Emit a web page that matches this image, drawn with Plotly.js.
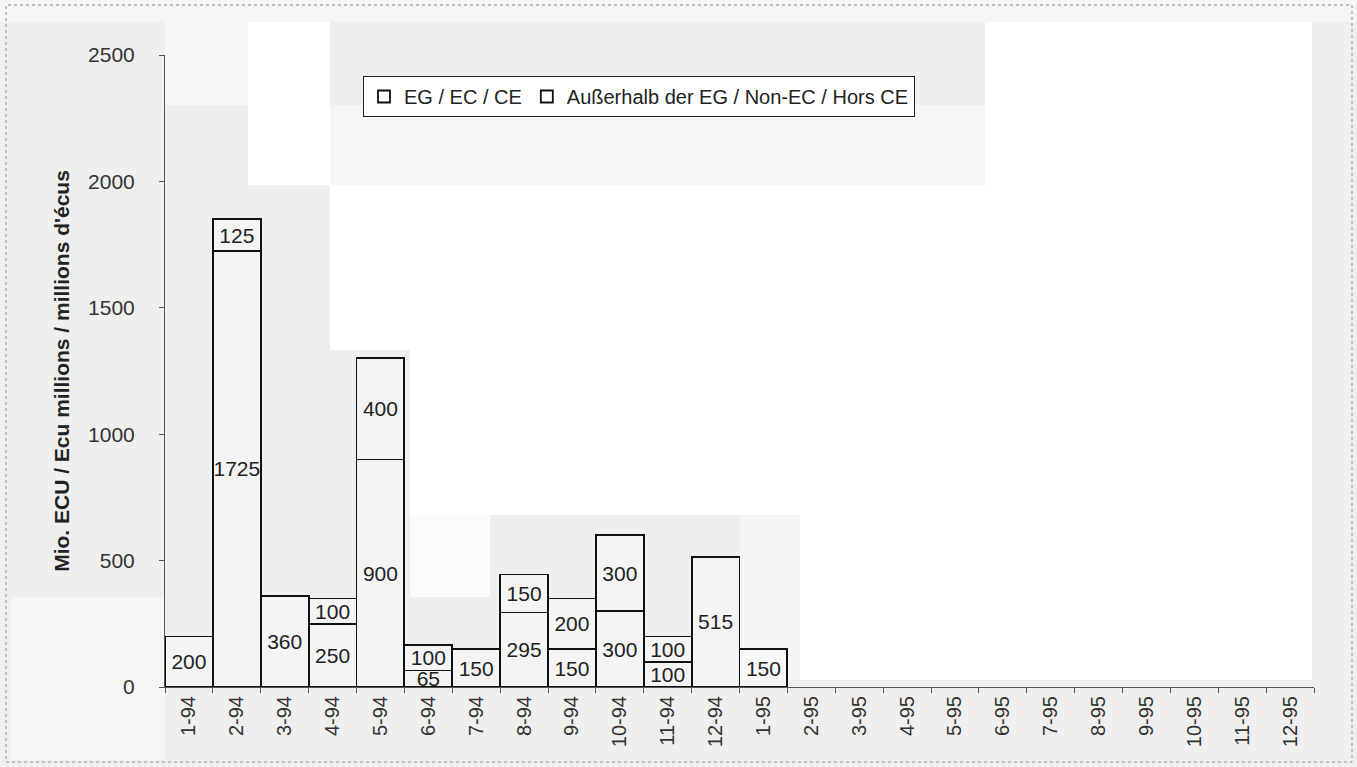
<!DOCTYPE html>
<html>
<head>
<meta charset="utf-8">
<script src="https://cdn.plot.ly/plotly-3.0.1.min.js"></script>
<style>html,body{margin:0;padding:0;background:#efefef;}#chart{width:1357px;height:767px;}</style>
</head>
<body>
<div id="chart"></div>
<script>
const months = ["1-94","2-94","3-94","4-94","5-94","6-94","7-94","8-94","9-94","10-94","11-94","12-94",
                "1-95","2-95","3-95","4-95","5-95","6-95","7-95","8-95","9-95","10-95","11-95","12-95"];
const ecValues    = [200,1725,360,250,900,65,150,295,150,300,100,515,150,null,null,null,null,null,null,null,null,null,null,null];
const nonEcValues = [null,125,null,100,400,100,null,150,200,300,100,null,null,null,null,null,null,null,null,null,null,null,null,null];
const seriesNames = ["EG / EC / CE", "Außerhalb der EG / Non-EC / Hors CE"];
const yTitle = "Mio. ECU / Ecu millions / millions d'écus";

const FONT = "Liberation Sans, Arial, sans-serif";
const L = 165, R = 1314, T = 55, B = 687;
function px(x){ return (x - L) / (R - L); }
function py(y){ return (B - y) / (B - T); }
function rect(x0,y0,x1,y1,color){
  return {type:'rect', xref:'paper', yref:'paper', x0:px(x0), x1:px(x1), y0:py(y1), y1:py(y0),
          fillcolor:color, line:{width:0}, layer:'below'};
}
const shapes = [
  rect(0,0,1357,22,'#f6f6f6'),
  rect(165,22,248,105,'#f7f7f7'),
  rect(248,22,330,185,'#ffffff'),
  rect(330,105,985,185,'#f6f6f6'),
  rect(410,185,985,515,'#ffffff'),
  rect(330,185,410,350,'#ffffff'),
  rect(410,515,490,597,'#fbfbfb'),
  rect(740,515,800,680,'#f5f5f5'),
  rect(800,515,985,680,'#ffffff'),
  rect(985,22,1312,680,'#ffffff'),
  rect(10,597,165,760,'#f6f6f6'),
  {type:'rect', xref:'paper', yref:'paper', x0:px(6), x1:px(1352), y0:py(762), y1:py(5),
   line:{color:'#8a8a8a', width:1, dash:'dot'}, fillcolor:'rgba(0,0,0,0)', layer:'below'}
];

function labels(arr){ return arr.map(v => v == null ? '' : String(v)); }
const barStyle = {color:'rgba(255,255,255,0.3)', line:{color:'#111', width:1.8}};
const traces = [
  {type:'bar', name:seriesNames[0], x:months, y:ecValues, text:labels(ecValues),
   textposition:'inside', insidetextanchor:'middle', constraintext:'none', textangle:0, cliponaxis:true,
   textfont:{family:FONT, size:21, color:'#222'}, marker:barStyle, hoverinfo:'skip'},
  {type:'bar', name:seriesNames[1], x:months, y:nonEcValues, text:labels(nonEcValues),
   textposition:'inside', insidetextanchor:'middle', constraintext:'none', textangle:0, cliponaxis:true,
   textfont:{family:FONT, size:21, color:'#222'}, marker:barStyle, hoverinfo:'skip'}
];

const layout = {
  width:1357, height:767,
  margin:{l:L, r:1357-R, t:T, b:767-B, pad:0},
  paper_bgcolor:'#efefef', plot_bgcolor:'rgba(0,0,0,0)',
  font:{family:FONT, color:'#222', size:20},
  barmode:'stack', bargap:0,
  showlegend:true,
  shapes: shapes,
  legend:{orientation:'h', x:px(363), y:py(76), xanchor:'left', yanchor:'top',
          bgcolor:'#ffffff', bordercolor:'#222', borderwidth:1, traceorder:'normal',
          font:{family:FONT, size:20, color:'#222'}, itemwidth:30, tracegroupgap:0},
  xaxis:{type:'category', tickangle:-90, tickson:'boundaries', ticks:'outside', ticklen:5,
         tickcolor:'#555', showline:true, linecolor:'#555', linewidth:1, showgrid:false,
         tickfont:{family:FONT, size:20, color:'#333'}, range:[-0.5,23.5], fixedrange:true},
  yaxis:{range:[0,2500], dtick:500, ticks:'outside', ticklen:5, tickcolor:'#555',
         showline:true, linecolor:'#555', linewidth:1, showgrid:false, zeroline:false,
         tickfont:{family:FONT, size:21, color:'#333'}, ticklabelstandoff:20,
         title:{text:yTitle, font:{family:FONT, size:21, color:'#222', weight:'bold'}, standoff:12}}
};
Plotly.newPlot('chart', traces, layout, {displayModeBar:false, staticPlot:true});
</script>
</body>
</html>
